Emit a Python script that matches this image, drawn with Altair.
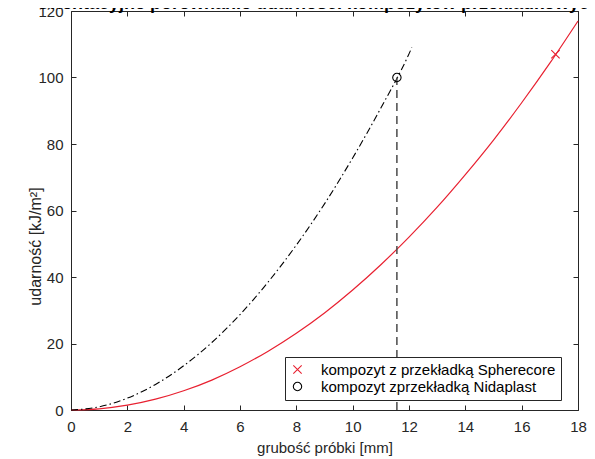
import altair as alt
import pandas as pd

# ---- data ----
x_red = [0, 1, 2, 3, 4, 5, 6, 7, 8, 9, 10, 11, 12, 13, 14, 15, 16, 17, 18]
y_red = [0, 0.36, 1.44, 3.25, 5.78, 9.0, 13.0, 17.7, 23.1, 29.2, 36.1, 43.7, 52.0, 61.0, 70.8, 81.2, 92.4, 104.3, 117.0]

x_black = [0, 1, 2, 3, 4, 5, 6, 7, 8, 9, 10, 11, 12, 12.1]
y_black = [0, 0.95, 3.56, 7.69, 13.3, 20.3, 28.7, 38.5, 49.6, 62.0, 75.8, 90.8, 107.1, 109.0]

marker_series = ["kompozyt z przekładką Spherecore", "kompozyt zprzekładką Nidaplast"]
marker_x = [17.2, 11.57]
marker_y = [107, 100]

ref_x = [11.57]
ref_y0 = [0]
ref_y1 = [100]

x_ticks = [0, 2, 4, 6, 8, 10, 12, 14, 16, 18]
y_ticks = [0, 20, 40, 60, 80, 100, 120]

title_text = "Orientacyjne porównanie udarności kompozytów przekładkowych"
x_title = "grubość próbki [mm]"
y_title = "udarność [kJ/m²]"

# ---- style ----
W, H = 507, 399
FONT = "Liberation Sans"
AX = "#262626"
RED = "#e82030"

red_df = pd.DataFrame({"x": x_red, "y": y_red})
black_df = pd.DataFrame({"x": x_black, "y": y_black})
mk_df = pd.DataFrame({"series": marker_series, "x": marker_x, "y": marker_y})
ref_df = pd.DataFrame({"x": ref_x, "y0": ref_y0, "y1": ref_y1})
title_df = pd.DataFrame({"t": [title_text]})

xs = alt.Scale(domain=[0, 18], nice=False, zero=False)
ys = alt.Scale(domain=[0, 120], nice=False, zero=False)

common = dict(grid=False, labelFont=FONT, titleFont=FONT, labelColor=AX, titleColor=AX,
              domainColor=AX, tickColor=AX, labelFontSize=15, titleFontWeight="normal")

ax_x_main = alt.Axis(orient="bottom", values=x_ticks, ticks=False, tickSize=0, labelPadding=9,
                     labelFlush=False, labelOverlap=False, domain=True, title=x_title,
                     titleFontSize=15, titleX=W / 2, titleY=37, titleBaseline="middle",
                     titleAnchor="middle", **common)
ax_x_inner_bottom = alt.Axis(orient="top", offset=-H, values=x_ticks, labels=False, domain=False,
                             ticks=True, tickSize=5, title=None, **common)
ax_x_top = alt.Axis(orient="bottom", offset=-H, values=x_ticks, labels=False, domain=True,
                    ticks=True, tickSize=5, title=None, **common)

ax_y_main = alt.Axis(orient="left", values=y_ticks, ticks=False, tickSize=0, labelPadding=8,
                     labelFlush=False, labelOverlap=False, domain=True, title=y_title,
                     titleFontSize=16, titleX=-36, titleY=235, titleAngle=270,
                     titleBaseline="middle", titleAlign="center", **common)
ax_y_inner_left = alt.Axis(orient="right", offset=-W, values=y_ticks, labels=False, domain=False,
                           ticks=True, tickSize=5, title=None, **common)
ax_y_right = alt.Axis(orient="left", offset=-W, values=y_ticks, labels=False, domain=True,
                      ticks=True, tickSize=5, title=None, **common)

red_line = alt.Chart(red_df).mark_line(color=RED, strokeWidth=1.2, interpolate="monotone").encode(
    x=alt.X("x:Q", scale=xs, axis=ax_x_main),
    y=alt.Y("y:Q", scale=ys, axis=ax_y_main),
)

black_line = alt.Chart(black_df).mark_line(color="#000000", strokeWidth=1.1, interpolate="monotone",
                                           strokeDash=[7, 3, 1.5, 3]).encode(
    x=alt.X("x:Q", scale=xs, axis=ax_x_inner_bottom),
    y=alt.Y("y:Q", scale=ys, axis=ax_y_inner_left),
)

ref_rule = alt.Chart(ref_df).mark_rule(color="#4a4a4a", strokeWidth=1.5, strokeDash=[8, 5]).encode(
    x=alt.X("x:Q", scale=xs, axis=ax_x_top),
    y=alt.Y("y0:Q", scale=ys, axis=ax_y_right),
    y2="y1:Q",
)

CROSS = "M-1,-1L1,1M-1,1L1,-1"
points = alt.Chart(mk_df).mark_point(filled=False, size=70, strokeWidth=1.1, opacity=1).encode(
    x=alt.X("x:Q", scale=xs, axis=None),
    y=alt.Y("y:Q", scale=ys, axis=None),
    color=alt.Color("series:N", scale=alt.Scale(domain=marker_series, range=[RED, "#000000"]),
                    legend=alt.Legend(title=None)),
    shape=alt.Shape("series:N", scale=alt.Scale(domain=marker_series, range=[CROSS, "circle"]),
                    legend=alt.Legend(title=None)),
)

title_mark = alt.Chart(title_df).mark_text(align="left", baseline="alphabetic", fontWeight="bold",
                                           fontSize=18, font=FONT, color="#000000").encode(
    x=alt.value(-35), y=alt.value(-2), text="t:N"
)

chart = alt.layer(red_line, black_line, ref_rule, points, title_mark).resolve_axis(
    x="independent", y="independent"
).properties(
    width=W, height=H,
    autosize=alt.AutoSizeParams(type="none"),
    padding={"left": 63, "top": 3, "right": 9, "bottom": 49},
    background="white",
).configure_view(stroke=None).configure_legend(
    orient="none", legendX=214, legendY=346, padding=5, strokeColor=AX, fillColor="white",
    labelFont=FONT, labelFontSize=15, labelColor="#000000", labelOffset=16, rowPadding=1,
    symbolSize=70, symbolStrokeWidth=1.1, cornerRadius=0, labelLimit=400,
)

chart.save("out.html", embed_options={"renderer": "svg", "actions": False})
